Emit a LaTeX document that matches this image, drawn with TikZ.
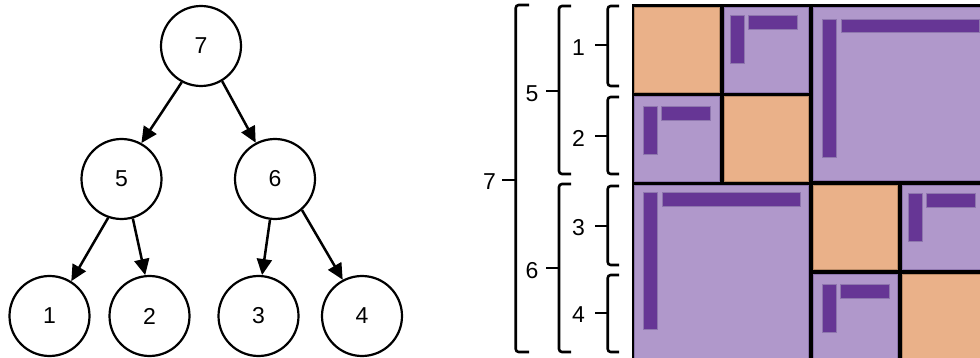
\documentclass[tikz,border=0pt]{standalone}
\usepackage{fontspec}
\setmainfont{Liberation Sans}
\usetikzlibrary{arrows.meta}
\definecolor{blkorange}{HTML}{EAB189}
\definecolor{blkpurple}{HTML}{B098CB}
\definecolor{barpurple}{HTML}{663695}
\definecolor{orangeedge}{HTML}{B98A66}
\definecolor{purpleedge}{HTML}{8E76AE}
\begin{document}
\begin{tikzpicture}[x=1pt,y=-1pt,
  treenode/.style={circle,draw,line width=2.2pt,minimum size=80pt,inner sep=0pt,font=\fontsize{23}{27}\selectfont},
  treearrow/.style={line width=2.5pt,-{Triangle[length=16pt,width=15pt]}},
  bracket/.style={line width=2.6pt,rounded corners=3pt},
  blabel/.style={font=\fontsize{23}{27}\selectfont,inner sep=0pt},
  orangeblk/.style={fill=blkorange,draw=orangeedge,line width=0.6pt},
  purpleblk/.style={fill=blkpurple,draw=purpleedge,line width=0.6pt},
  bar/.style={fill=barpurple,draw=purpleedge,line width=0.5pt}]
\clip (0,0) rectangle (980,358);
\fill[white] (0,0) rectangle (980,358);
% tree
\node[treenode] (n7) at (201,46) {7};
\node[treenode] (n5) at (121.5,179) {5};
\node[treenode] (n6) at (275,179) {6};
\node[treenode] (n1) at (49.5,316) {1};
\node[treenode] (n2) at (149.5,316) {2};
\node[treenode] (n3) at (258.5,316) {3};
\node[treenode] (n4) at (362,316) {4};
\draw[treearrow] (n7.242) -- (n5.61);
\draw[treearrow] (n7.301) -- (n6.118);
\draw[treearrow] (n5.251) -- (n1.58);
\draw[treearrow] (n5.286) -- (n2.96);
\draw[treearrow] (n6.263) -- (n3.85);
\draw[treearrow] (n6.311) -- (n4.118);
% brackets
\draw[bracket] (529,5) -- (515.7,5) -- (515.7,352) -- (529,352);
\draw[bracket] (515.7,180) -- (502,180);
\node[blabel] (l7) at (489.5,181.5) {7};
\draw[bracket] (571,6) -- (559,6) -- (559,174) -- (571,174);
\draw[bracket] (559,91) -- (546,91);
\node[blabel] (l5) at (532,94) {5};
\draw[bracket] (571,184) -- (559,184) -- (559,352) -- (571,352);
\draw[bracket] (559,268) -- (546,268);
\node[blabel] (l6) at (532,271) {6};
\draw[bracket] (619,6) -- (607.7,6) -- (607.7,86) -- (619,86);
\draw[bracket] (607.7,45) -- (595,45);
\node[blabel] (l1) at (578.5,48) {1};
\draw[bracket] (619,97) -- (607.7,97) -- (607.7,174) -- (619,174);
\draw[bracket] (607.7,136) -- (595,136);
\node[blabel] (l2) at (578.5,138) {2};
\draw[bracket] (619,186) -- (607.7,186) -- (607.7,265) -- (619,265);
\draw[bracket] (607.7,226) -- (595,226);
\node[blabel] (l3) at (578.5,228) {3};
\draw[bracket] (619,275) -- (607.7,275) -- (607.7,352) -- (619,352);
\draw[bracket] (607.7,313) -- (595,313);
\node[blabel] (l4) at (578.5,315) {4};
% matrix
\fill[black] (631.5,4) rectangle (995,365);
\draw[orangeblk] (634,7) rectangle +(85,85);
\draw[orangeblk] (723.8,96) rectangle +(84.5,85);
\draw[orangeblk] (812.8,185) rectangle +(84.5,84);
\draw[orangeblk] (902,274) rectangle +(85,85);
\draw[purpleblk] (723.8,7) rectangle +(84.5,85);
\draw[purpleblk] (634.5,96) rectangle +(84.5,85);
\draw[purpleblk] (902,185) rectangle +(85,84);
\draw[purpleblk] (812.8,274) rectangle +(84.5,85);
\draw[purpleblk] (812.8,7) rectangle (990,180.5);
\draw[purpleblk] (634.5,185) rectangle (808.3,362);
% bars
\draw[bar] (730,15) rectangle +(14,48);
\draw[bar] (748,15) rectangle +(49,14);
\draw[bar] (643,106) rectangle +(14,48);
\draw[bar] (661,106) rectangle +(49,14);
\draw[bar] (908,193) rectangle +(14,48);
\draw[bar] (926,193) rectangle +(49,14);
\draw[bar] (822,284) rectangle +(14,48);
\draw[bar] (840,284) rectangle +(49,14);
\draw[bar] (822,19) rectangle +(14,138);
\draw[bar] (841,19) rectangle +(138,13);
\draw[bar] (643,192) rectangle +(14,137);
\draw[bar] (662,192) rectangle +(138,14);
\end{tikzpicture}
\end{document}
